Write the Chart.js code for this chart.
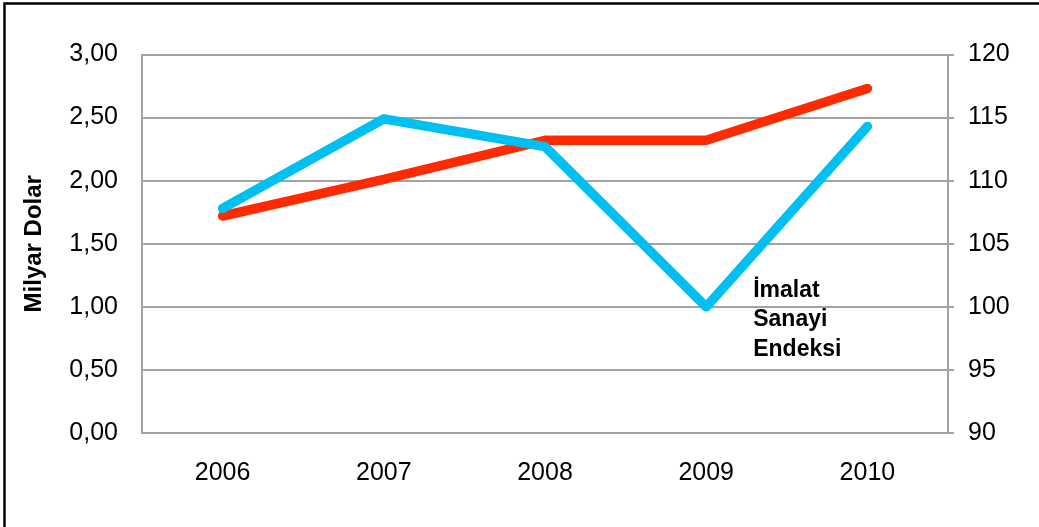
<!DOCTYPE html>
<html>
<head>
<meta charset="utf-8">
<script src="https://cdn.jsdelivr.net/npm/chart.js@4"></script>
<style>
  html, body { margin: 0; padding: 0; background: #fff; }
  #wrap { width: 1039px; height: 527px; position: relative; }
</style>
</head>
<body>
<div id="wrap"><canvas id="chart"></canvas></div>
<script>
// data
const years = ['2006', '2007', '2008', '2009', '2010'];
const milyarDolar = [1.72, 2.01, 2.32, 2.32, 2.73];      // red, left axis
const sanayiEndeksi = [107.8, 114.9, 112.7, 100, 114.3]; // blue, right axis
const leftTicks = [0, 0.5, 1, 1.5, 2, 2.5, 3];
const leftTickLabels = ['0,00', '0,50', '1,00', '1,50', '2,00', '2,50', '3,00'];
const rightTicks = [90, 95, 100, 105, 110, 115, 120];
const rightTickLabels = ['90', '95', '100', '105', '110', '115', '120'];
const seriesLabel = ['İmalat', 'Sanayi', 'Endeksi'];

const gridGray = '#a3a3a3';
const fontFamily = '"Liberation Sans", Arial, sans-serif';

// black frame round the picture
const framePlugin = {
    id: 'frame',
    beforeDraw(chart) {
        const ctx = chart.ctx;
        ctx.save();
        ctx.fillStyle = '#fff';
        ctx.fillRect(0, 0, chart.width, chart.height);
        ctx.strokeStyle = '#000';
        ctx.lineWidth = 2.5;
        ctx.strokeRect(4.5, 3.5, chart.width + 20, chart.height + 20);
        ctx.restore();
    }
};

// text label next to the blue line
const seriesTextPlugin = {
    id: 'seriesText',
    afterDatasetsDraw(chart) {
        const ctx = chart.ctx;
        const x = chart.scales.x.getPixelForValue(3) + 47;
        const y = chart.scales.y2.getPixelForValue(100);
        ctx.save();
        ctx.font = 'bold 23px ' + fontFamily;
        ctx.fillStyle = '#000';
        ctx.textBaseline = 'alphabetic';
        seriesLabel.forEach((t, i) => ctx.fillText(t, x, y - 10 + i * 29.5));
        ctx.restore();
    }
};

new Chart(document.getElementById('chart'), {
    type: 'line',
    data: {
        labels: years,
        datasets: [{
            label: 'Milyar Dolar',
            data: milyarDolar,
            yAxisID: 'y',
            borderColor: '#ff2a00',
            borderWidth: 9.5,
            borderCapStyle: 'round',
            borderJoinStyle: 'round',
            pointRadius: 0,
            tension: 0,
            order: 1
        }, {
            label: 'İmalat Sanayi Endeksi',
            data: sanayiEndeksi,
            yAxisID: 'y2',
            borderColor: '#00bff2',
            borderWidth: 9.5,
            borderCapStyle: 'round',
            borderJoinStyle: 'round',
            pointRadius: 0,
            tension: 0,
            order: 0
        }]
    },
    options: {
        responsive: true,
        maintainAspectRatio: false,
        animation: false,
        layout: { padding: { top: 54.5, left: 0, right: 0, bottom: 0 } },
        plugins: {
            legend: { display: false },
            tooltip: { enabled: false }
        },
        scales: {
            x: {
                offset: true,
                grid: { display: false, drawTicks: false },
                border: { display: true, color: gridGray, width: 2 },
                ticks: { color: '#000', font: { family: fontFamily, size: 25 }, padding: 25 },
                afterFit: (s) => { s.height = 94; }
            },
            y: {
                position: 'left',
                min: 0,
                max: 3,
                afterBuildTicks: (s) => { s.ticks = leftTicks.map(v => ({ value: v })); },
                grid: { color: gridGray, lineWidth: 2, drawTicks: false },
                border: { display: true, color: gridGray, width: 2 },
                ticks: {
                    color: '#000',
                    font: { family: fontFamily, size: 25 },
                    padding: 24,
                    callback: (v, i) => leftTickLabels[i]
                },
                title: {
                    display: true,
                    text: 'Milyar Dolar',
                    color: '#000',
                    font: { family: fontFamily, size: 24, weight: 'bold' },
                    padding: { top: 20, bottom: 0 }
                },
                afterFit: (s) => { s.width = 142; }
            },
            y2: {
                position: 'right',
                min: 90,
                max: 120,
                afterBuildTicks: (s) => { s.ticks = rightTicks.map(v => ({ value: v })); },
                grid: { drawOnChartArea: false, color: gridGray, lineWidth: 2, tickLength: 6 },
                border: { display: true, color: gridGray, width: 2 },
                ticks: {
                    color: '#000',
                    font: { family: fontFamily, size: 25 },
                    padding: 14,
                    callback: (v, i) => rightTickLabels[i]
                },
                afterFit: (s) => { s.width = 91; }
            }
        }
    },
    plugins: [framePlugin, seriesTextPlugin]
});
</script>
</body>
</html>
